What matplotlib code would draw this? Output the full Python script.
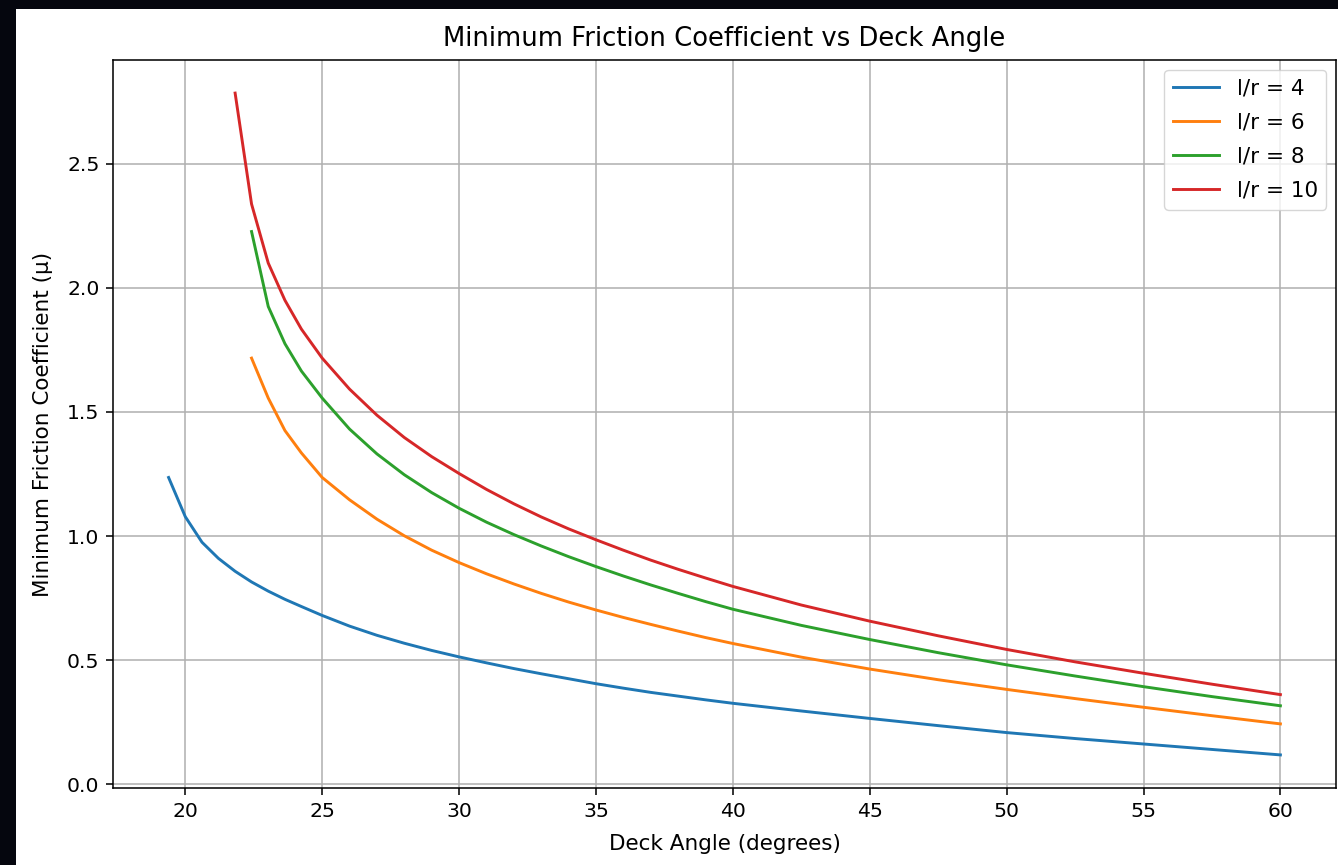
import numpy as np
import matplotlib
matplotlib.use("Agg")
import matplotlib.pyplot as plt
from matplotlib.patches import Rectangle

nan = float("nan")

deck_angle = [19.39, 20.0, 20.61, 21.21, 21.82, 22.42, 23.03, 23.64, 24.24,
              25, 26, 27, 28, 29, 30, 31, 32, 33, 34, 35, 36, 37, 38, 39, 40,
              42.5, 45, 47.5, 50, 52.5, 55, 57.5, 60]

mu_lr4 = [1.236, 1.078, 0.975, 0.910, 0.858, 0.815, 0.778, 0.745, 0.716,
          0.680, 0.637, 0.600, 0.568, 0.539, 0.513, 0.489, 0.466, 0.445, 0.425,
          0.405, 0.387, 0.370, 0.355, 0.340, 0.326,
          0.295, 0.265, 0.236, 0.208, 0.184, 0.162, 0.140, 0.118]
mu_lr6 = [nan, nan, nan, nan, nan, 1.717, 1.556, 1.425, 1.335,
          1.236, 1.146, 1.068, 1.001, 0.943, 0.893, 0.848, 0.807, 0.769, 0.734,
          0.702, 0.672, 0.644, 0.617, 0.591, 0.567,
          0.512, 0.464, 0.421, 0.382, 0.345, 0.310, 0.276, 0.243]
mu_lr8 = [nan, nan, nan, nan, nan, 2.227, 1.925, 1.775, 1.665,
          1.556, 1.431, 1.331, 1.247, 1.175, 1.112, 1.056, 1.006, 0.960, 0.917,
          0.877, 0.839, 0.803, 0.769, 0.736, 0.705,
          0.640, 0.583, 0.530, 0.481, 0.436, 0.393, 0.353, 0.316]
mu_lr10 = [nan, nan, nan, nan, 2.785, 2.338, 2.100, 1.950, 1.834,
           1.717, 1.592, 1.487, 1.397, 1.320, 1.252, 1.188, 1.130, 1.077, 1.029,
           0.985, 0.943, 0.903, 0.866, 0.831, 0.797,
           0.722, 0.657, 0.598, 0.543, 0.493, 0.447, 0.403, 0.361]

series = [("l/r = 4", mu_lr4), ("l/r = 6", mu_lr6),
          ("l/r = 8", mu_lr8), ("l/r = 10", mu_lr10)]

W, H = 1338, 865
S = 1.4      # line/tick scale
T = 1.55     # text scale
fig = plt.figure(figsize=(W / 100, H / 100), dpi=100, facecolor="#05060e")
fig.add_artist(Rectangle((16 / W, 0), 1 - 16 / W, 1 - 9 / H,
                         transform=fig.transFigure, facecolor="white",
                         edgecolor="none", zorder=-10))

ax = fig.add_axes([113 / W, 1 - 788 / H, (1336 - 113) / W, (788 - 60) / H])
for label, vals in series:
    ax.plot(deck_angle, vals, label=label, linewidth=1.5 * S)

ax.set_title("Minimum Friction Coefficient vs Deck Angle", fontsize=12 * T, pad=10)
ax.set_xlabel("Deck Angle (degrees)", fontsize=10 * T, labelpad=10)
ax.set_ylabel("Minimum Friction Coefficient (μ)", fontsize=10 * T, labelpad=10)
ax.tick_params(labelsize=10 * 1.47, width=0.8 * S, length=3.5 * S, pad=3.5 * S)
for sp in ax.spines.values():
    sp.set_linewidth(0.8 * S)
ax.grid(True, linewidth=0.8 * S, color="#b0b0b0")
ax.set_xticks([20, 25, 30, 35, 40, 45, 50, 55, 60])
ax.set_yticks([0.0, 0.5, 1.0, 1.5, 2.0, 2.5])
ax.legend(loc="upper right", fontsize=10 * T, borderaxespad=0.45,
          labelspacing=0.66, handlelength=2.15)

fig.savefig("out.png", dpi=100, facecolor=fig.get_facecolor())
